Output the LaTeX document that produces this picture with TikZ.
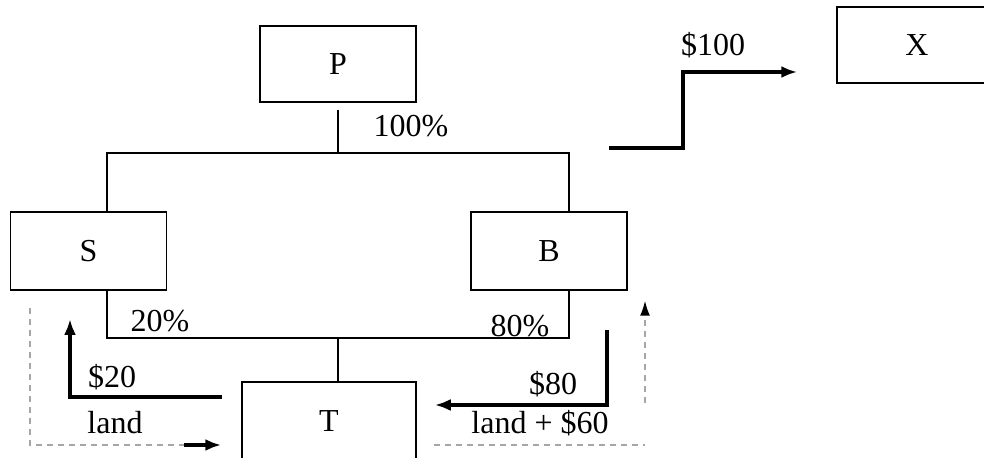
\documentclass[tikz,border=0pt]{standalone}
\usepackage{fontspec}
\setmainfont{Liberation Serif}
\usetikzlibrary{arrows.meta, calc}

\begin{document}
\begin{tikzpicture}[>=Latex, x=0.5pt, y=-0.5pt, line join=miter,
  font=\fontsize{16}{19}\selectfont,
  entity/.style={draw, line width=0.75pt, minimum width=78pt, minimum height=38pt, inner sep=0pt},
  tree/.style={line width=0.75pt},
  flow/.style={line width=2pt, -{Latex[length=8pt,width=6pt]}},
  movebox/.style={gray!70, line width=0.75pt, dash pattern=on 3pt off 2.5pt}]
\path[use as bounding box, clip] (0,0) rectangle (984,458);
%========================
% entities
%========================
\node[entity] (P) at (338,64) {P};
\node[entity, minimum height=39pt] (S) at (88.5,251) {S};
\node[entity, minimum height=39pt] (B) at (549,251) {B};
\node[entity, minimum width=87pt, minimum height=39pt] (T) at (329,421) {T};
\node[entity, minimum width=80pt] (X) at (917,45) {X};

%========================
% ownership
%========================
% P owns S and B
\coordinate (top) at (338,153);
\draw[tree] ([yshift=-3.5pt]P.south) -- (top);
\draw[tree] ([xshift=9.25pt]S.north) |- (top) -| ([xshift=10pt]B.north);
\node (p100) at (411,126) {100\%};
% S and B own T
\coordinate (bot) at (338,338);
\draw[tree] ([xshift=9.25pt]S.south) |- (bot) -| ([xshift=10pt]B.south);
\draw[tree] (bot) -- (bot |- T.north);
\node (p20) at (160,321) {20\%};
\node[anchor=base] (p80) at (520,337) {80\%};

%========================
% cash and land
%========================
\coordinate (c100) at (609,148);
\draw[flow] (c100) -- (683,148) -- (683,72) -- ([xshift=-19.5pt]X.west |- 0,72);
\node (l100) at (713,45) {\$100};

\coordinate (c80) at (607,330);
\draw[flow] (c80) |- ([xshift=9pt]T.east |- 0,405);
\node (l80) at (553,384) {\$80};
\node (l60) at (540,423) {land + \$60};

\coordinate (c20) at (222,397);
\draw[flow] (c20) -| (70,319);
\node (l20) at (112,377) {\$20};
\node (lland) at (115,423) {land};

% land moves
\coordinate (ls) at (30,308);
\coordinate (lt) at (184,445);
\draw[movebox] (ls) |- (lt);
\draw[flow] (lt) -- ([xshift=-10pt]T.west |- lt);
\draw[movebox] ([xshift=8.5pt]T.east |- 0,445) -- (645,445);
\draw[movebox, -{Latex[length=7.5pt,width=5pt,color=black]}] (645,403) -- ([yshift=-5pt]B.south -| 645,0);
\end{tikzpicture}
\end{document}
